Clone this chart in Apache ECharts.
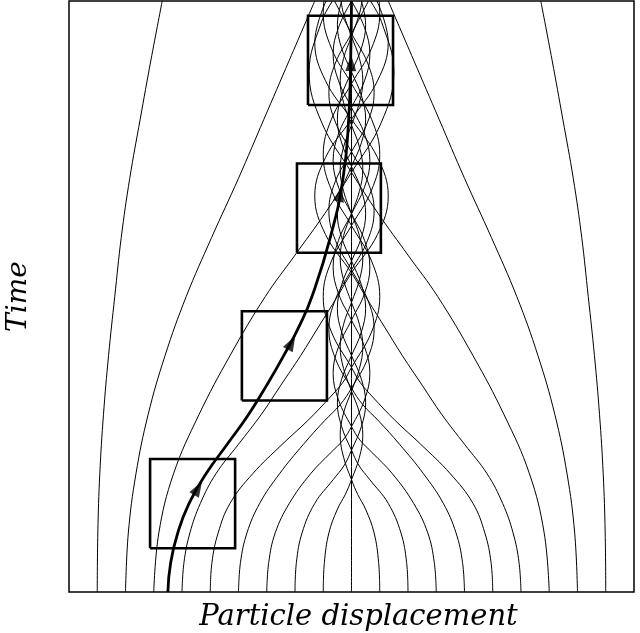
<!DOCTYPE html>
<html>
<head>
<meta charset="utf-8">
<script src="https://cdn.jsdelivr.net/npm/echarts@6/dist/echarts.min.js"></script>
<style>
html,body{margin:0;padding:0;background:#fff;}
#chart{width:640px;height:633px;}
</style>
</head>
<body>
<div id="chart"></div>
<script>
// x = particle displacement (units), t = time (units)
const L9 = [[-9,0],[-8.98,1],[-8.91,2],[-8.78,3],[-8.6,4],[-8.38,5],[-8.15,6],[-7.85,7],[-7.48,8],[-7.1,9],[-6.7,10]];
const L8 = [[-8,0],[-7.9,1],[-7.63,2],[-7.2,3],[-6.6,4],[-5.85,5],[-4.95,6],[-4.0,7],[-3.1,8],[-2.2,9],[-1.3,10]];
const L7 = [[-7,0],[-6.82,1],[-6.3,2],[-5.4,3],[-4.3,4],[-3.05,5],[-2.0,5.7],[-0.95,6.4],[0,7.1],[1.06,7.95],[1.5,8.8],[1.06,9.65],[0.67,10]];
const L6 = [[-6,0],[-5.93,0.5],[-5.72,1],[-5.35,1.5],[-4.8,2],[-4.0,2.5],[-3.2,3],[-2.5,3.5],[-1.8,4],[-1.15,4.5],[-0.5,5],[0,5.4],[0.92,6.05],[1.3,6.7],[0.92,7.35],[0,8.0],[-0.92,8.65],[-1.3,9.3],[-0.9,10]];
const L5 = [[-5,0],[-4.94,0.5],[-4.72,1],[-4.3,1.5],[-3.5,2],[-2.45,2.5],[-1.55,2.9],[-0.75,3.3],[-0.3,3.55],[0,3.8],[0.71,4.4],[1.0,5.0],[0.71,5.6],[0,6.2],[-0.71,6.8],[-1.0,7.4],[-0.71,8.0],[0,8.6],[0.71,9.2],[1.0,9.8],[0.98,10]];
const L4 = [[-4,0],[-3.93,0.5],[-3.7,1],[-3.25,1.5],[-2.55,2],[-1.7,2.5],[-0.95,2.9],[-0.4,3.17],[0,3.45],[0.57,3.95],[0.8,4.45],[0.57,4.95],[0,5.45],[-0.57,5.95],[-0.8,6.45],[-0.57,6.95],[0,7.45],[0.57,7.95],[0.8,8.45],[0.57,8.95],[0,9.45],[-0.6,10]];
const L3 = [[-3,0],[-2.93,0.5],[-2.7,1],[-2.2,1.5],[-1.45,2],[-0.75,2.35],[-0.3,2.57],[0,2.8],[0.46,3.25],[0.65,3.7],[0.46,4.15],[0,4.6],[-0.46,5.05],[-0.65,5.5],[-0.46,5.95],[0,6.4],[0.46,6.85],[0.65,7.3],[0.46,7.75],[0,8.2],[-0.46,8.65],[-0.65,9.1],[-0.46,9.55],[0,10]];
const L2 = [[-2,0],[-1.95,0.5],[-1.75,1],[-1.3,1.5],[-0.65,1.9],[-0.25,2.15],[0,2.4],[0.35,2.8],[0.5,3.2],[0.35,3.6],[0,4.0],[-0.35,4.4],[-0.5,4.8],[-0.35,5.2],[0,5.6],[0.35,6.0],[0.5,6.4],[0.35,6.8],[0,7.2],[-0.35,7.6],[-0.5,8.0],[-0.35,8.4],[0,8.8],[0.35,9.2],[0.5,9.6],[0.35,10]];
const L1 = [[-1,0],[-0.96,0.5],[-0.8,1],[-0.5,1.4],[-0.22,1.65],[0,1.9],[0.28,2.28],[0.4,2.65],[0.28,3.03],[0,3.4],[-0.28,3.78],[-0.4,4.15],[-0.28,4.53],[0,4.9],[0.28,5.28],[0.4,5.65],[0.28,6.03],[0,6.4],[-0.28,6.78],[-0.4,7.15],[-0.28,7.53],[0,7.9],[0.28,8.28],[0.4,8.65],[0.28,9.03],[0,9.4],[-0.28,9.78],[-0.37,10]];
const L0 = [[0,0],[0,10]];
const R1 = [[1,0],[0.96,0.5],[0.8,1],[0.5,1.4],[0.22,1.65],[0,1.9],[-0.28,2.28],[-0.4,2.65],[-0.28,3.03],[0,3.4],[0.28,3.78],[0.4,4.15],[0.28,4.53],[0,4.9],[-0.28,5.28],[-0.4,5.65],[-0.28,6.03],[0,6.4],[0.28,6.78],[0.4,7.15],[0.28,7.53],[0,7.9],[-0.28,8.28],[-0.4,8.65],[-0.28,9.03],[0,9.4],[0.28,9.78],[0.37,10]];
const R2 = [[2,0],[1.95,0.5],[1.75,1],[1.3,1.5],[0.65,1.9],[0.25,2.15],[0,2.4],[-0.35,2.8],[-0.5,3.2],[-0.35,3.6],[0,4.0],[0.35,4.4],[0.5,4.8],[0.35,5.2],[0,5.6],[-0.35,6.0],[-0.5,6.4],[-0.35,6.8],[0,7.2],[0.35,7.6],[0.5,8.0],[0.35,8.4],[0,8.8],[-0.35,9.2],[-0.5,9.6],[-0.35,10]];
const R3 = [[3,0],[2.93,0.5],[2.7,1],[2.2,1.5],[1.45,2],[0.75,2.35],[0.3,2.57],[0,2.8],[-0.46,3.25],[-0.65,3.7],[-0.46,4.15],[0,4.6],[0.46,5.05],[0.65,5.5],[0.46,5.95],[0,6.4],[-0.46,6.85],[-0.65,7.3],[-0.46,7.75],[0,8.2],[0.46,8.65],[0.65,9.1],[0.46,9.55],[0,10]];
const R4 = [[4,0],[3.93,0.5],[3.7,1],[3.25,1.5],[2.55,2],[1.7,2.5],[0.95,2.9],[0.4,3.17],[0,3.45],[-0.57,3.95],[-0.8,4.45],[-0.57,4.95],[0,5.45],[0.57,5.95],[0.8,6.45],[0.57,6.95],[0,7.45],[-0.57,7.95],[-0.8,8.45],[-0.57,8.95],[0,9.45],[0.6,10]];
const R5 = [[5,0],[4.94,0.5],[4.72,1],[4.3,1.5],[3.5,2],[2.45,2.5],[1.55,2.9],[0.75,3.3],[0.3,3.55],[0,3.8],[-0.71,4.4],[-1.0,5.0],[-0.71,5.6],[0,6.2],[0.71,6.8],[1.0,7.4],[0.71,8.0],[0,8.6],[-0.71,9.2],[-1.0,9.8],[-0.98,10]];
const R6 = [[6,0],[5.93,0.5],[5.72,1],[5.35,1.5],[4.8,2],[4.0,2.5],[3.2,3],[2.5,3.5],[1.8,4],[1.15,4.5],[0.5,5],[0,5.4],[-0.92,6.05],[-1.3,6.7],[-0.92,7.35],[0,8.0],[0.92,8.65],[1.3,9.3],[0.9,10]];
const R7 = [[7,0],[6.82,1],[6.3,2],[5.4,3],[4.3,4],[3.05,5],[2.0,5.7],[0.95,6.4],[0,7.1],[-1.06,7.95],[-1.5,8.8],[-1.06,9.65],[-0.67,10]];
const R8 = [[8,0],[7.9,1],[7.63,2],[7.2,3],[6.6,4],[5.85,5],[4.95,6],[4.0,7],[3.1,8],[2.2,9],[1.3,10]];
const R9 = [[9,0],[8.98,1],[8.91,2],[8.78,3],[8.6,4],[8.38,5],[8.15,6],[7.85,7],[7.48,8],[7.1,9],[6.7,10]];

const thick = [[-6.5,0],[-6.4,0.5],[-6.15,1],[-5.75,1.5],[-5.15,2],[-4.4,2.5],[-3.65,3],[-3.0,3.5],[-2.4,4],[-1.85,4.5],[-1.4,5],[-0.75,6],[-0.3,7],[-0.1,8],[-0.03,9],[0,10]];
// arrow positions on thick path and their direction (deg)
const arrowPts = [[-5.43,1.76],[-2.12,4.22],[-0.4,6.74],[-0.02,8.95]];
const arrowRot = [-30,-28,-12,-1];
// boxes: [xmin, xmax, tmin, tmax]
const boxes = [[-7.13,-4.12,0.74,2.25],[-3.88,-0.87,3.24,4.75],[-1.93,1.04,5.74,7.25],[-1.54,1.47,8.24,9.75]];

const thinLines = [L9,L8,L7,L6,L5,L4,L3,L2,L1,L0,R1,R2,R3,R4,R5,R6,R7,R8,R9];

const series = [];
thinLines.forEach(d => series.push({
  type:'line', data:d, smooth:0.4, showSymbol:false, silent:true,
  lineStyle:{color:'#000', width:1}, z:2
}));
series.push({type:'line', data:thick, smooth:0.5, showSymbol:false, silent:true,
  lineStyle:{color:'#000', width:2.8}, z:4});
boxes.forEach(b => series.push({
  type:'line', showSymbol:false, silent:true, z:5,
  data:[[b[0],b[2]],[b[1],b[2]],[b[1],b[3]],[b[0],b[3]],[b[0],b[2]]],
  lineStyle:{color:'#000', width:2.6, join:'miter'}
}));
series.push({type:'scatter', silent:true, z:6,
  data: arrowPts.map((p,i)=>({value:p, symbolRotate:arrowRot[i]})),
  symbol:'triangle', symbolSize:[11,16], itemStyle:{color:'#000'}});

const chart = echarts.init(document.getElementById('chart'), null, {renderer:'canvas'});
chart.setOption({
  animation:false,
  backgroundColor:'#fff',
  grid:{left:69, right:6, top:1, bottom:41, containLabel:false, outerBoundsMode:'none',
    show:true, borderColor:'#000', borderWidth:1.5},
  xAxis:{type:'value', min:-10, max:10,
    axisLine:{show:false}, axisTick:{show:false}, axisLabel:{show:false}, splitLine:{show:false},
    name:'Particle displacement', nameLocation:'middle', nameGap:11,
    nameTextStyle:{fontFamily:'DejaVu Serif', fontStyle:'italic', fontSize:29, color:'#000',
      verticalAlign:'top', padding:[0,0,0,14]}},
  yAxis:{type:'value', min:0, max:10,
    axisLine:{show:false}, axisTick:{show:false}, axisLabel:{show:false}, splitLine:{show:false},
    name:'Time', nameLocation:'middle', nameGap:36,
    nameTextStyle:{fontFamily:'DejaVu Serif', fontStyle:'italic', fontSize:28, color:'#000'}},
  series:series
});
</script>
</body>
</html>
